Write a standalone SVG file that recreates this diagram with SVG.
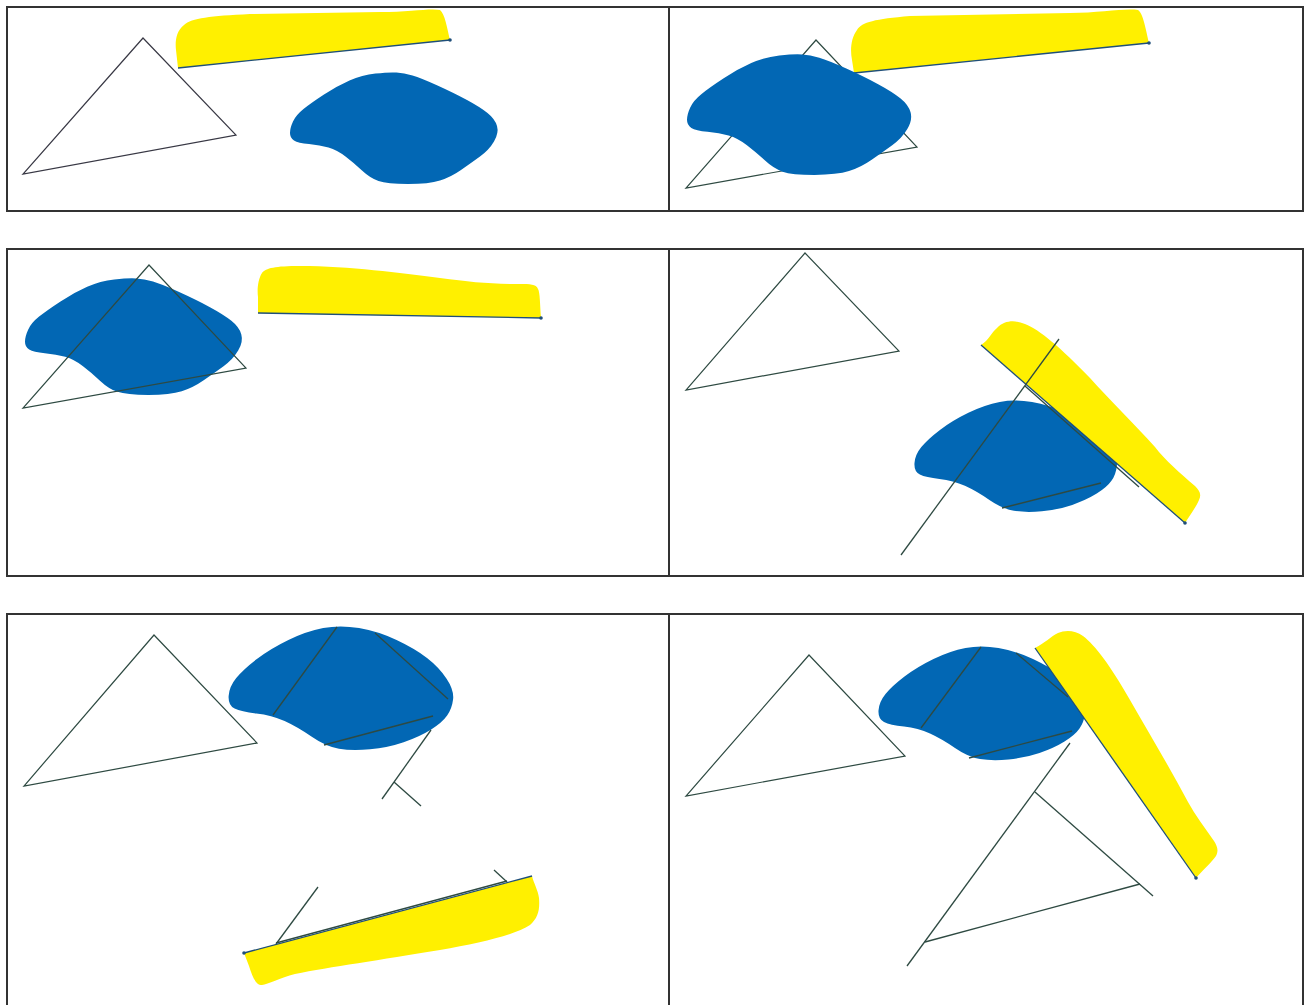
<svg xmlns="http://www.w3.org/2000/svg" xmlns:xlink="http://www.w3.org/1999/xlink" width="1310" height="1005" viewBox="0 0 1310 1005">
<style>
.frame{fill:none;stroke:#333;stroke-width:2}
.tri{fill:none;stroke:#2E4A42;stroke-width:1.2;stroke-linejoin:miter}
.ln{fill:none;stroke:#2E4A42;stroke-width:1.3;stroke-linecap:butt}
.blob{fill:#0267B4}
.hl{fill:#FFF000}
.edge{fill:none;stroke:#1F4F7A;stroke-width:1.3}
.dot{fill:#1F4F7A}
</style>
<defs>
<path id="blobA" d="M396.5,72.5 Q389,72 375.5,73.5 Q362,75 349.5,80.5 Q337,86 324,94.5 Q311,103 303.5,109 Q296,115 293,121.5 Q290,128 290,133 Q290,138 294,140.5 Q298,143 309,144 Q320,145 328.5,147.5 Q337,150 345.5,156.5 Q354,163 362,170.5 Q370,178 378.5,181 Q387,184 408,184 Q429,184 440,180.5 Q451,177 461,170 Q471,163 480,156.5 Q489,150 494,141.5 Q499,133 497,126 Q495,119 487.5,113 Q480,107 467,100 Q454,93 437.5,85.5 Q421,78 412.5,75.5 Q404,73 396.5,72.5 Z"/>
<path id="blobB" d="M998.5,648 Q981,645 965.5,648 Q950,651 933.5,659 Q917,667 904.5,676.5 Q892,686 885.5,694 Q879,702 878.5,710.5 Q878,719 884,722 Q890,725 904,726.5 Q918,728 930,733.5 Q942,739 955,748 Q968,757 980,759 Q992,761 1008.5,759.5 Q1025,758 1039.5,753 Q1054,748 1064.5,741.5 Q1075,735 1079.5,728.5 Q1084,722 1085,713.5 Q1086,705 1079,694.5 Q1072,684 1061,675.5 Q1050,667 1033,659 Q1016,651 998.5,648 Z"/>
</defs>
<rect width="1310" height="1005" fill="#fff"/>

<g id="frames">
<rect class="frame" x="7" y="7" width="1296" height="204"/>
<line class="frame" x1="669" y1="7" x2="669" y2="211"/>
<rect class="frame" x="7" y="249" width="1296" height="327"/>
<line class="frame" x1="669" y1="249" x2="669" y2="576"/>
<rect class="frame" x="7" y="614" width="1296" height="400"/>
<line class="frame" x1="669" y1="614" x2="669" y2="1010"/>
</g>

<g id="panel1">
<polygon class="tri" style="stroke:#383844" points="143,38 236,135 23,174"/>
<path class="hl" d="M178,68 L450,40 C447,28 445,14 440,10 C430,8 410,12 380,12 L250,14 C210,16 192,18 184,25 C176,31 175,42 176,50 Z"/>
<line class="edge" x1="178" y1="68" x2="450" y2="40"/>
<circle class="dot" cx="450" cy="40" r="1.8"/>
<use xlink:href="#blobA" class="blob"/>
</g>

<g id="panel2">
<polygon class="tri" points="816,40 917,147 686,188"/>
<path class="hl" d="M854,73 L1149,43 C1146,30 1143,13 1138,10 C1125,8 1100,13 1070,13 L910,16 C875,19 862,22 857,30 C851,38 850,50 852,60 Z"/>
<line class="edge" x1="854" y1="73" x2="1149" y2="43"/>
<circle class="dot" cx="1149" cy="43" r="1.8"/>
<use xlink:href="#blobA" class="blob" transform="translate(687,55) scale(1.08) translate(-290,-73)"/>
</g>

<g id="panel3">
<use xlink:href="#blobA" class="blob" transform="translate(25,279) scale(1.045) translate(-290,-73)"/>
<polygon class="tri" points="149,265 246,368 23,408"/>
<path class="hl" d="M258,313 L541,318 C540,305 540,292 538,289 C536,284 530,284 520,284 C490,284 470,282 440,278 C400,273 350,266 300,266 C275,266 266,268 262,273 C258,279 257,290 258,297 Z"/>
<line class="edge" x1="258" y1="313" x2="541" y2="318"/>
<circle class="dot" cx="541" cy="318" r="1.8"/>
</g>

<g id="panel4">
<polygon class="tri" points="805,253 899,351 686,390"/>
<use xlink:href="#blobB" class="blob" transform="translate(913,401) scale(0.98) translate(-877,-647)"/>
<path class="hl" d="M981,345 L1185,523 C1190,515 1196,507 1199,500 C1202,494 1199,490 1195,486 C1180,473 1165,460 1155,447 C1135,425 1110,400 1090,378 C1060,347 1040,330 1025,324 C1015,320 1005,320 997,328 C991,333 989,340 981,345 Z"/>
<line class="edge" x1="981" y1="345" x2="1185" y2="523"/>
<circle class="dot" cx="1185" cy="523" r="1.8"/>
<line class="ln" x1="1059" y1="339" x2="901" y2="555"/>
<line class="ln" x1="1025" y1="386" x2="1139" y2="487"/>
<line class="ln" x1="1002" y1="508" x2="1101" y2="483"/>
</g>

<g id="panel5">
<polygon class="tri" points="154,635 257,743 24,786"/>
<use xlink:href="#blobB" class="blob" transform="translate(227,627) scale(1.087) translate(-877,-647)"/>
<line class="ln" x1="337" y1="627" x2="273" y2="715"/>
<line class="ln" x1="375" y1="633" x2="448" y2="699"/>
<line class="ln" x1="324" y1="745" x2="433" y2="716"/>
<line class="ln" x1="431" y1="730" x2="382" y2="799"/>
<line class="ln" x1="394" y1="782" x2="421" y2="806"/>
<path class="hl" d="M244,953 L532,876 C534,884 538,890 539,898 C540,910 538,918 530,925 C515,935 480,943 440,950 C380,960 330,967 295,974 C280,978 268,984 262,985 C255,985 252,975 249,966 Z"/>
<line class="ln" x1="318" y1="887" x2="276" y2="944"/>
<line class="ln" x1="494" y1="870" x2="507" y2="882"/>
<line class="ln" x1="276" y1="943" x2="507" y2="881"/>
<line class="edge" x1="244" y1="953" x2="532" y2="876"/>
<circle class="dot" cx="244" cy="953" r="1.8"/>
</g>

<g id="panel6">
<polygon class="tri" points="809,655 905,756 686,796"/>
<use xlink:href="#blobB" class="blob"/>
<line class="ln" x1="981" y1="647" x2="921" y2="728"/>
<line class="ln" x1="1016" y1="653" x2="1068" y2="697"/>
<line class="ln" x1="969" y1="758" x2="1072" y2="731"/>
<path class="hl" d="M1035,648 L1196,878 C1203,870 1212,862 1216,856 C1219,850 1217,846 1214,841 C1205,828 1195,815 1188,802 C1170,768 1150,735 1130,700 C1110,665 1095,645 1083,636 C1075,630 1065,630 1058,633 C1050,637 1045,643 1035,648 Z"/>
<line class="edge" x1="1035" y1="648" x2="1196" y2="878"/>
<circle class="dot" cx="1196" cy="878" r="1.8"/>
<line class="ln" x1="1070" y1="743" x2="907" y2="966"/>
<line class="ln" x1="1035" y1="792" x2="1153" y2="896"/>
<line class="ln" x1="925" y1="942" x2="1140" y2="884"/>
</g>
</svg>
